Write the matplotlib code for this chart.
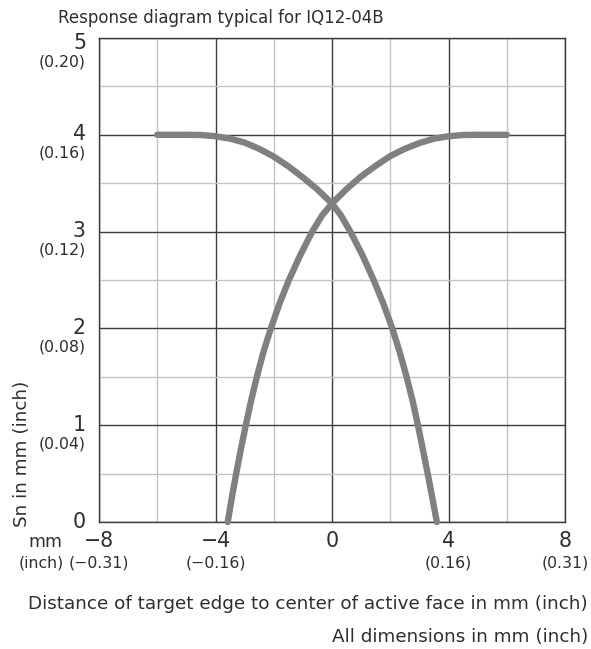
import matplotlib.pyplot as plt
from matplotlib.ticker import MultipleLocator
from matplotlib.transforms import blended_transform_factory, offset_copy

plt.rcParams["font.family"] = ["DejaVu Sans"]

# tick values and their inch equivalents
x_ticks = [-8, -4, 0, 4, 8]
x_inch = ["(\u22120.31)", "(\u22120.16)", "", "(0.16)", "(0.31)"]
y_ticks = [0, 1, 2, 3, 4, 5]
y_inch = ["", "(0.04)", "(0.08)", "(0.12)", "(0.16)", "(0.20)"]

# curve falling from the left plateau (mm)
fall_x = [-6, -5.5, -5, -4.5, -4, -3.5, -3, -2.5, -2, -1.5, -1, -0.5, 0,
          0.3, 0.63, 1.055, 1.43, 1.77, 2.07, 2.33, 2.56, 2.77, 2.95, 3.12,
          3.285, 3.445, 3.6]
fall_y = [4.0, 4.0, 4.0, 3.998, 3.985, 3.96, 3.92, 3.855, 3.775, 3.675,
          3.56, 3.435, 3.29, 3.17, 3.0, 2.75, 2.5, 2.25, 2.0, 1.75, 1.5,
          1.25, 1.0, 0.75, 0.5, 0.25, 0.0]

# curve rising to the right plateau (mm)
rise_x = [-3.58, -3.44, -3.29, -3.13, -2.96, -2.78, -2.58, -2.36, -2.1,
          -1.81, -1.48, -1.1, -0.68, -0.34, 0, 0.5, 1.0, 1.5, 2.0, 2.5,
          3.0, 3.5, 4.0, 4.5, 5, 5.5, 6]
rise_y = [0.0, 0.25, 0.5, 0.75, 1.0, 1.25, 1.5, 1.75, 2.0, 2.25, 2.5,
          2.75, 3.0, 3.167, 3.29, 3.44, 3.57, 3.68, 3.78, 3.855, 3.915,
          3.96, 3.985, 3.998, 4.0, 4.0, 4.0]

W, H = 591, 649
fig = plt.figure(figsize=(W / 100, H / 100), dpi=100)
ax = fig.add_axes([99 / W, 1 - 522 / H, 466 / W, 484 / H])

ax.set_xlim(-8, 8)
ax.set_ylim(0, 5)
ax.xaxis.set_major_locator(MultipleLocator(4))
ax.xaxis.set_minor_locator(MultipleLocator(2))
ax.yaxis.set_major_locator(MultipleLocator(1))
ax.yaxis.set_minor_locator(MultipleLocator(0.5))
ax.tick_params(which="both", length=0, labelbottom=False, labelleft=False)
ax.grid(which="major", color="#3c3c3c", linewidth=1.0)
ax.grid(which="minor", color="#c4c4c4", linewidth=1.0)
ax.set_axisbelow(True)
for s in ax.spines.values():
    s.set_color("#3c3c3c")
    s.set_linewidth(1.0)

for xs, ys in [(fall_x, fall_y), (rise_x, rise_y)]:
    ax.plot(xs, ys, color="#808084", linewidth=4.6, solid_capstyle="round",
            solid_joinstyle="round", zorder=3, clip_on=False)

txt = "#2e2e2e"

# y tick labels: mm value just below the line, inch value below that
ty = blended_transform_factory(ax.transAxes, ax.transData)
for v, inch in zip(y_ticks, y_inch):
    extra = 6 if v == 5 else 0
    ax.text(-13 / 466, v, str(v), ha="right", va="baseline", fontsize=14.8,
            color=txt, transform=offset_copy(ty, fig, y=-(5.5 + extra), units="dots"))
    if inch:
        ax.text(-13 / 466, v, inch, ha="right", va="baseline", fontsize=11.3,
                color=txt, transform=offset_copy(ty, fig, y=-(23 + extra), units="dots"))

# x tick labels
tx = blended_transform_factory(ax.transData, ax.transAxes)
for v, inch in zip(x_ticks, x_inch):
    lab = str(v).replace("-", "\u2212")
    ax.text(v, 0, lab, ha="center", va="baseline", fontsize=14.8, color=txt,
            transform=offset_copy(tx, fig, y=-24.7, units="dots"))
    if inch:
        ax.text(v, 0, inch, ha="center", va="baseline", fontsize=11.3, color=txt,
                transform=offset_copy(tx, fig, y=-45.7, units="dots"))

fig.text(45.5 / W, 1 - 546.7 / H, "mm", ha="center", va="baseline",
         fontsize=12.5, color=txt)
fig.text(41.5 / W, 1 - 567.7 / H, "(inch)", ha="center", va="baseline",
         fontsize=11.3, color=txt)

fig.text(58 / W, 1 - 22.7 / H, "Response diagram typical for IQ12-04B",
         ha="left", va="baseline", fontsize=12, color=txt)
fig.text(26.7 / W, 1 - 526.7 / H, "Sn in mm (inch)", rotation=90,
         rotation_mode="anchor", ha="left", va="baseline", fontsize=13.2, color=txt)
fig.text(588 / W, 1 - 609.3 / H,
         "Distance of target edge to center of active face in mm (inch)",
         ha="right", va="baseline", fontsize=13.2, color=txt)
fig.text(588 / W, 1 - 641.7 / H, "All dimensions in mm (inch)",
         ha="right", va="baseline", fontsize=13.2, color=txt)

fig.savefig("out.png", dpi=100)
